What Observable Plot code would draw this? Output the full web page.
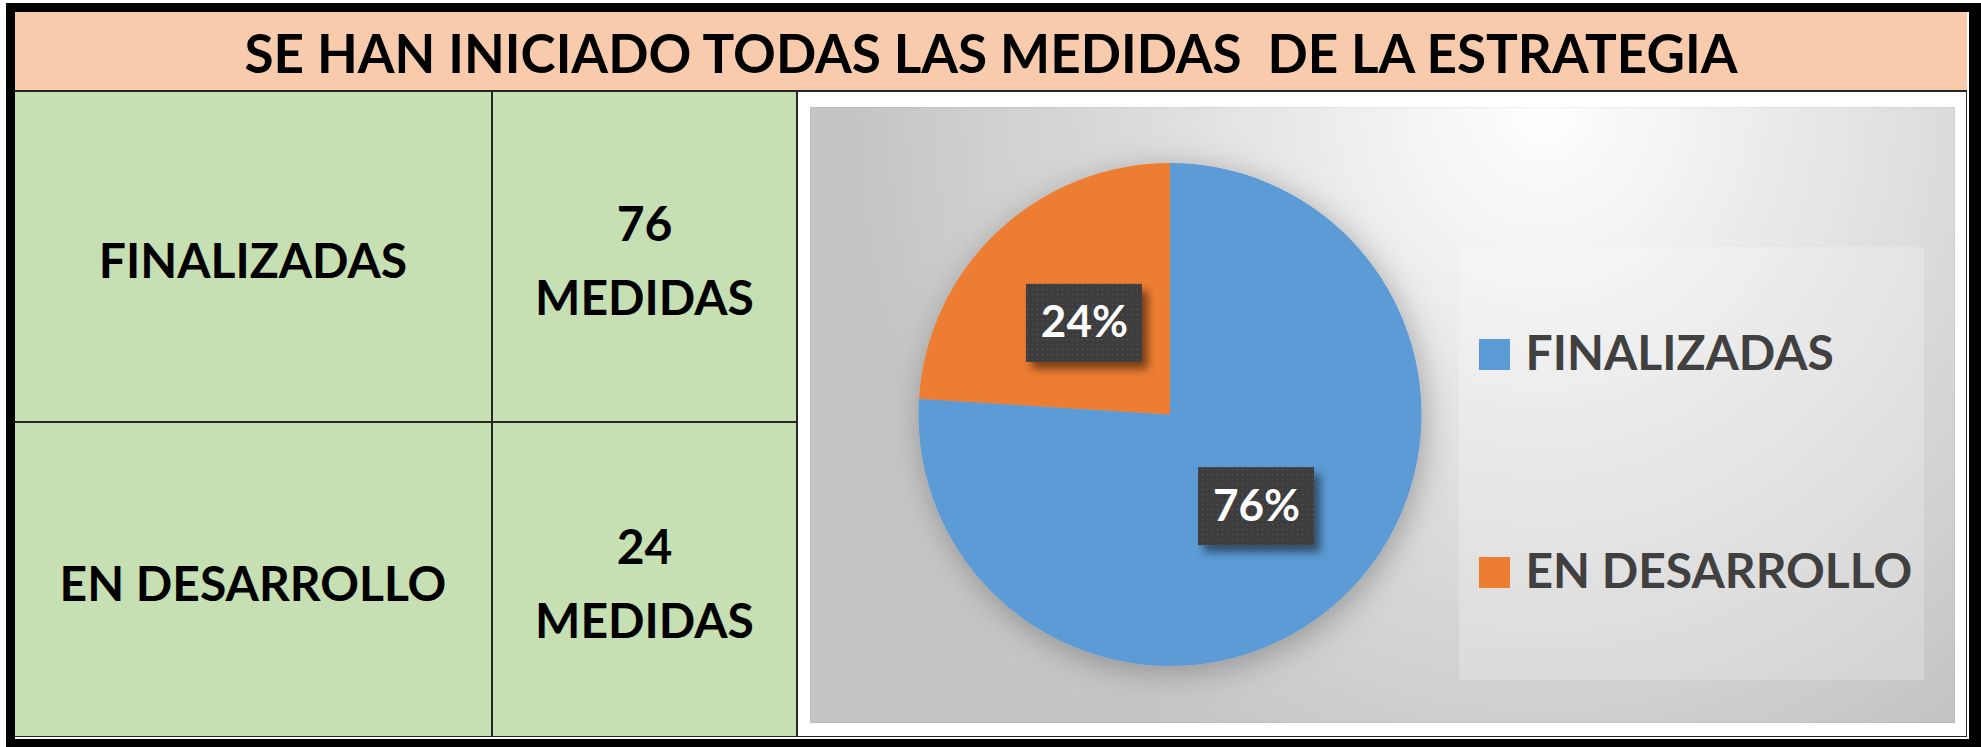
<!DOCTYPE html>
<html>
<head>
<meta charset="utf-8">
<script src="https://cdn.jsdelivr.net/npm/d3@7"></script>
<script src="https://cdn.jsdelivr.net/npm/@observablehq/plot@0.6"></script>
<style>
  html, body { margin: 0; padding: 0; background: #ffffff; width: 1981px; height: 747px; overflow: hidden; }
  body { position: relative; font-family: Lato, "Open Sans", sans-serif; }
  .abs { position: absolute; box-sizing: border-box; }
  #frame { left: 6px; top: 3px; width: 1975px; height: 744px; border-style: solid; border-color: #000; border-width: 9px 12px 8px 9px; }
  #title { left: 15px; top: 12px; width: 1952px; height: 80px; background: #F8CBAD; border-bottom: 2px solid #262626;
           display: flex; align-items: center; justify-content: center; font-weight: 700; font-size: 53px; color: #000; white-space: pre; padding-top: 2px; }
  #grid { left: 15px; top: 90px; width: 1952px; height: 647px; background: #262626; }
  .cell { background: #C6E0B4; display: flex; flex-direction: column; align-items: center; justify-content: center;
          font-weight: 700; font-size: 48px; color: #000; text-align: center; line-height: 74px; padding-top: 6px; }
  #chartArea { left: 798px; top: 92px; width: 1168px; height: 644px; background: #ffffff; }
  #panel { left: 810px; top: 107px; width: 1145px; height: 616px;
           background: radial-gradient(ellipse 60% 120% at 64% 0%, #ffffff 0%, #f3f3f3 20%, #dbdbdb 60%, #c5c5c5 100%);
           box-shadow: inset 0 0 2px rgba(0,0,0,0.15); }
  #legendBox { left: 1459px; top: 247px; width: 465px; height: 433px; background: rgba(255,255,255,0.22); }
</style>
</head>
<body>
<script>
// ---------------- data ----------------
const title = "SE HAN INICIADO TODAS LAS MEDIDAS  DE LA ESTRATEGIA";
const categories = ["FINALIZADAS", "EN DESARROLLO"];
const counts = [76, 24];
const unitLabel = "MEDIDAS";
const colors = ["#5B9BD5", "#ED7D31"];

// ---------------- layout (styles only) ----------------
const rowLayout = [{ top: 92, h: 329 }, { top: 423, h: 313 }];
const col1 = { left: 15, w: 476 };
const col2 = { left: 493, w: 303 };

function addDiv(id, cls, style, html) {
  const d = document.createElement("div");
  if (id) d.id = id;
  d.className = cls;
  if (style) Object.assign(d.style, style);
  if (html != null) d.innerHTML = html;
  document.body.appendChild(d);
  return d;
}

addDiv("frame", "abs");
addDiv("grid", "abs");
const t = addDiv("title", "abs");
t.textContent = title;

categories.forEach((c, i) => {
  const r = rowLayout[i];
  const a = addDiv(null, "abs cell", { left: col1.left + "px", top: r.top + "px", width: col1.w + "px", height: r.h + "px" });
  a.textContent = c;
  const b = addDiv(null, "abs cell", { left: col2.left + "px", top: r.top + "px", width: col2.w + "px", height: r.h + "px" });
  b.innerHTML = `<div>${counts[i]}</div><div>${unitLabel}</div>`;
});

addDiv("chartArea", "abs");
const panel = addDiv("panel", "abs");
addDiv("legendBox", "abs");

// ---------------- pie ----------------
const total = d3.sum(counts);
const rows = categories.map((c, i) => ({ category: c, value: counts[i], pct: counts[i] / total }));
const arcs = d3.pie().value(d => d.value).sort(null)(rows);
const labels = arcs.map(a => {
  const m = (a.startAngle + a.endAngle) / 2;
  return { ...a.data, ux: 0.5 * Math.sin(m), uy: 0.5 * Math.cos(m) };
});
const colorOf = d3.scaleOrdinal(categories, colors);

const PW = 1145, PH = 616, CX = 360, CY = 307.5, R = 251.5;
const BOXW = 116, BOXH = 78;

const wedgeMark = (index, scales) => {
  const x = scales.x, y = scales.y;
  const cx = x(0), cy = y(0), r = x(1) - x(0);
  const g = d3.create("svg:g");
  const defs = g.append("defs");
  const f1 = defs.append("filter").attr("id", "pieShadow").attr("x", "-40%").attr("y", "-40%").attr("width", "180%").attr("height", "180%");
  f1.append("feDropShadow").attr("dx", 4).attr("dy", 6).attr("stdDeviation", 16).attr("flood-color", "#000").attr("flood-opacity", 0.28);
  const arc = d3.arc().innerRadius(0).outerRadius(r);
  g.append("g")
    .attr("transform", `translate(${cx},${cy})`)
    .attr("filter", "url(#pieShadow)")
    .selectAll("path").data(arcs).join("path")
    .attr("d", arc)
    .attr("fill", d => colorOf(d.data.category));
  return g.node();
};

const boxMark = (index, scales) => {
  const x = scales.x, y = scales.y;
  const g = d3.create("svg:g");
  const defs = g.append("defs");
  const p = defs.append("pattern").attr("id", "dots").attr("width", 5).attr("height", 5).attr("patternUnits", "userSpaceOnUse");
  p.append("rect").attr("width", 5).attr("height", 5).attr("fill", "#3c3c3c");
  p.append("circle").attr("cx", 2.5).attr("cy", 2.5).attr("r", 0.7).attr("fill", "#565656");
  const f2 = defs.append("filter").attr("id", "boxShadow").attr("x", "-30%").attr("y", "-30%").attr("width", "160%").attr("height", "160%");
  f2.append("feDropShadow").attr("dx", 6).attr("dy", 7).attr("stdDeviation", 4).attr("flood-color", "#000").attr("flood-opacity", 0.5);
  g.selectAll("rect.box").data(labels).join("rect")
    .attr("class", "box")
    .attr("x", d => x(d.ux) - BOXW / 2)
    .attr("y", d => y(d.uy) - BOXH / 2)
    .attr("width", BOXW).attr("height", BOXH)
    .attr("fill", "url(#dots)")
    .attr("filter", "url(#boxShadow)");
  return g.node();
};

const pie = Plot.plot({
  width: PW, height: PH, margin: 0,
  style: { background: "transparent", overflow: "visible", fontFamily: "Lato" },
  x: { domain: [-1, 1], range: [CX - R, CX + R], axis: null },
  y: { domain: [-1, 1], range: [CY + R, CY - R], axis: null },
  marks: [
    wedgeMark,
    boxMark,
    Plot.text(labels, {
      x: "ux", y: "uy",
      text: d => Math.round(d.pct * 100) + "%",
      fill: "#ffffff", fontSize: 44, fontWeight: 700, fontFamily: "Lato"
    })
  ]
});
pie.style.position = "absolute";
pie.style.left = "0px";
pie.style.top = "0px";
panel.appendChild(pie);

// ---------------- legend ----------------
const legend = Plot.plot({
  width: 465, height: 433, margin: 0,
  style: { background: "transparent", overflow: "visible", fontFamily: "Lato" },
  y: { type: "point", domain: categories, range: [107, 325], padding: 0, axis: null },
  color: { domain: categories, range: colors },
  marks: [
    Plot.dot(categories, { y: d => d, fill: d => d, symbol: "square", r: 17.5, frameAnchor: "left", dx: 35 }),
    Plot.text(categories, { y: d => d, text: d => d, frameAnchor: "left", textAnchor: "start", dx: 66,
      fill: "#404040", fontSize: 48, fontWeight: 700, fontFamily: "Lato" })
  ]
});
legend.style.position = "absolute";
legend.style.left = "0px";
legend.style.top = "0px";
document.getElementById("legendBox").appendChild(legend);
</script>
</body>
</html>
